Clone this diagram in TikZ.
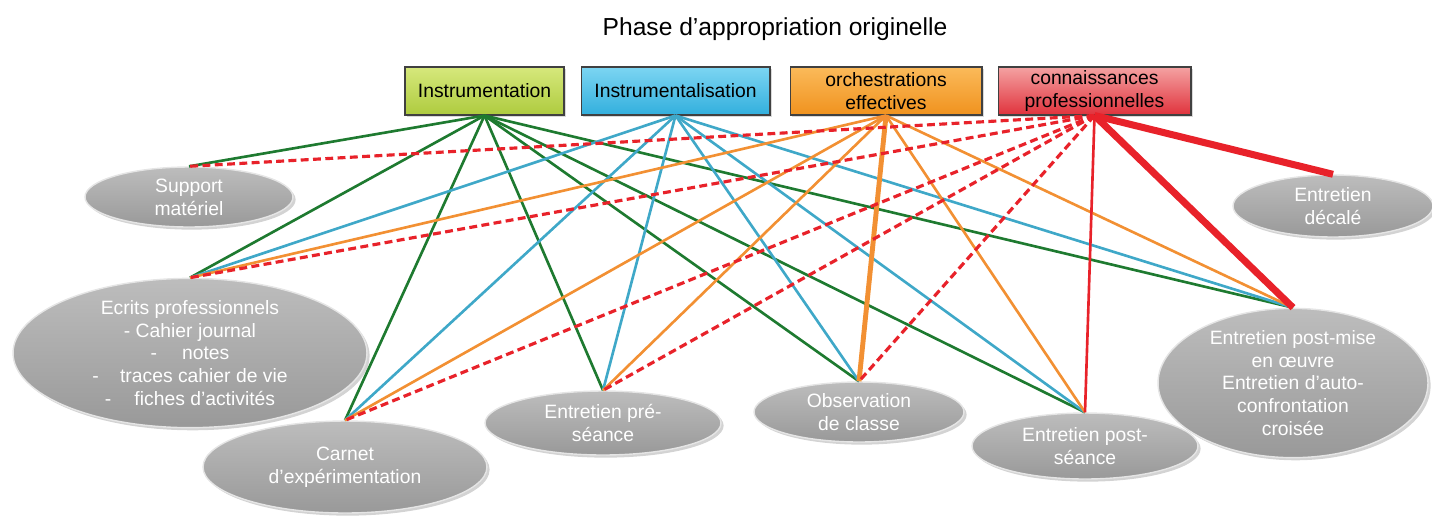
\documentclass[tikz,border=0pt]{standalone}
\usepackage{fontspec}
\setmainfont{Liberation Sans}
\usetikzlibrary{shapes.geometric,shadows}
\definecolor{cgreen}{HTML}{1E7A30}
\definecolor{cblue}{HTML}{3FA8C8}
\definecolor{corange}{HTML}{F29033}
\definecolor{cred}{HTML}{E8222A}
\definecolor{insT}{HTML}{D6E87C}
\definecolor{insB}{HTML}{AECB3E}
\definecolor{ialT}{HTML}{7CD5F2}
\definecolor{ialB}{HTML}{32AFDD}
\definecolor{orcT}{HTML}{FBBA5A}
\definecolor{orcB}{HTML}{F0921E}
\definecolor{conT}{HTML}{F4A2A2}
\definecolor{conB}{HTML}{E0323C}
\begin{document}
\begin{tikzpicture}[x=0.02cm,y=-0.02cm,
  box/.style={draw=black!75, line width=0.6pt, minimum height=0.96cm, inner sep=1pt,
    align=center, font=\fontsize{11}{13}\selectfont,
    drop shadow={opacity=0.3, shadow xshift=1pt, shadow yshift=-1pt}},
  ell/.style={ellipse, draw=black!10, line width=0.8pt, top color=black!26, bottom color=black!40,
    text=white, align=center, inner sep=0pt, font=\fontsize{11}{13}\selectfont,
    drop shadow={opacity=0.35, shadow xshift=1.5pt, shadow yshift=-1.5pt}},
  lk/.style={line width=1.5pt},
  gr/.style={lk, cgreen},
  bl/.style={lk, cblue},
  og/.style={lk, corange},
  dsh/.style={cred, line width=1.8pt, dash pattern=on 4.5pt off 2.5pt},
  thk/.style={cred, line width=4pt}
]
\useasboundingbox (0,0) rectangle (1432,515);

\node[font=\fontsize{14}{17}\selectfont] (title) at (775,29) {Phase d’appropriation originelle};

% ellipses
\node[ell, minimum width=4.16cm, minimum height=1.2cm] (sup) at (189,197) {Support\\matériel};
\node[ell, minimum width=7.08cm, minimum height=2.7cm] (ecr) at (190,353)
  {Ecrits professionnels\\- Cahier journal\\-\hspace{1.3em}notes\\-\hspace{1.1em}traces cahier de vie\\-\hspace{1.2em}fiches d’activités};
\node[ell, minimum width=5.68cm, minimum height=1.84cm] (car) at (345,467) {Carnet\\d’expérimentation};
\node[ell, minimum width=4.72cm, minimum height=1.28cm] (pre) at (603,423) {Entretien pré-\\séance};
\node[ell, minimum width=4.2cm, minimum height=1.2cm] (obs) at (859,412) {Observation\\de classe};
\node[ell, minimum width=4.52cm, minimum height=1.32cm] (pos) at (1085,446) {Entretien post-\\séance};
\node[ell, minimum width=5.4cm, minimum height=2.64cm] (mis) at (1293,383)
  {Entretien post-mise\\en œuvre\\Entretien d’auto-\\confrontation\\croisée};
\node[ell, minimum width=4.0cm, minimum height=1.24cm] (dec) at (1333,206) {Entretien\\décalé};

% boxes
\node[box, minimum width=3.18cm, top color=insT, bottom color=insB] (ins) at (484.5,91) {Instrumentation};
\node[box, minimum width=3.78cm, top color=ialT, bottom color=ialB] (ial) at (675.5,91) {Instrumentalisation};
\node[box, minimum width=3.84cm, top color=orcT, bottom color=orcB] (orc) at (886,91) {orchestrations\\effectives};
\node[box, minimum width=3.86cm, top color=conT, bottom color=conB] (con) at (1094.5,91) {connaissances\\professionnelles};

% Instrumentation (green)
\foreach \t in {sup,ecr,car,pre,obs,pos,mis}
  \draw[gr] (ins.south) -- (\t.north);
% Instrumentalisation (blue)
\foreach \t in {ecr,car,pre,obs,pos,mis}
  \draw[bl] (ial.south) -- (\t.north);
% orchestrations (orange)
\foreach \t in {ecr,car,pre,pos,mis}
  \draw[og] (orc.south) -- (\t.north);
\draw[corange, line width=2.8pt] (orc.south) -- (obs.north);
% connaissances (red)
\foreach \t in {sup,ecr,car,pre,obs}
  \draw[dsh] (con.south) -- (\t.north);
\draw[cred, line width=1.5pt] (con.south) -- (pos.north);
\draw[thk] (con.south) -- (mis.north);
\draw[thk] (con.south) -- (dec.north);
\end{tikzpicture}
\end{document}
